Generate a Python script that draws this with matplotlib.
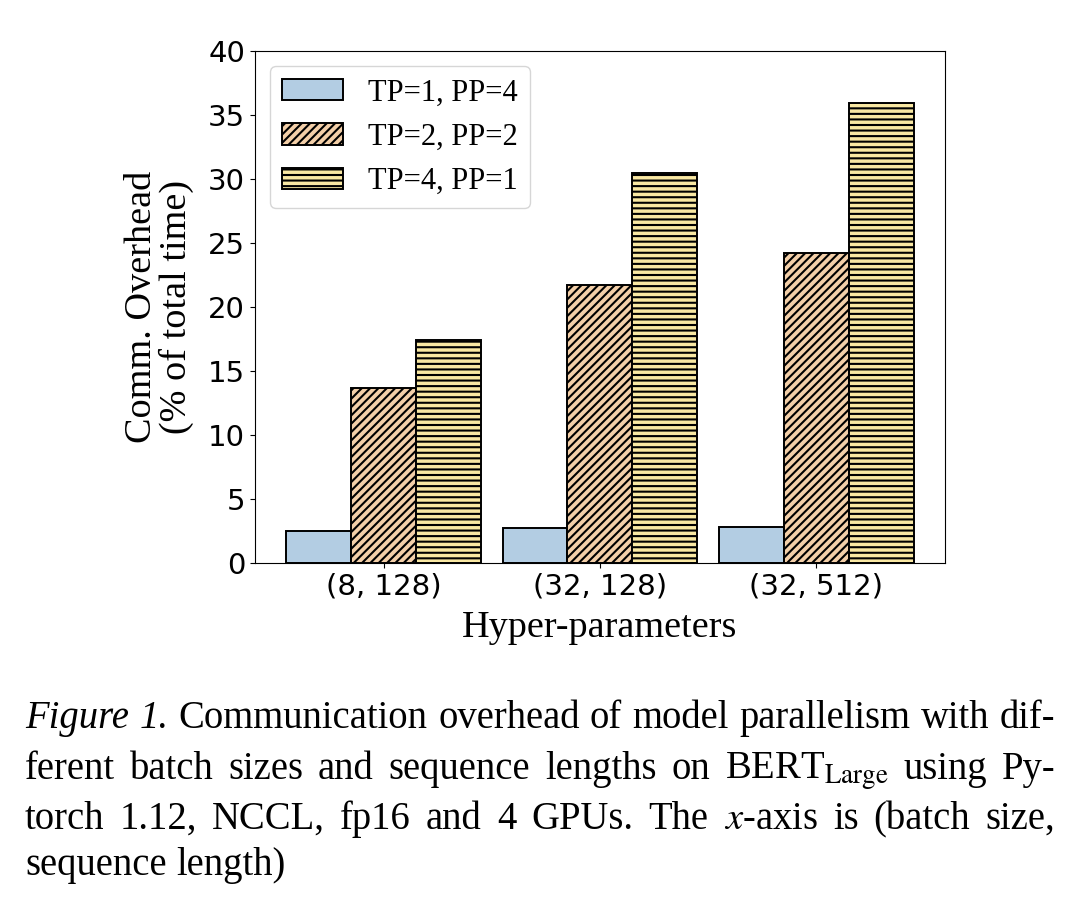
import numpy as np
import matplotlib
matplotlib.use("Agg")
import matplotlib.pyplot as plt

plt.rcParams["hatch.linewidth"] = 1.5
plt.rcParams["mathtext.fontset"] = "stix"

groups = ["(8, 128)", "(32, 128)", "(32, 512)"]
series = ["TP=1, PP=4", "TP=2, PP=2", "TP=4, PP=1"]
tp1_pp4 = [2.5, 2.7, 2.8]
tp2_pp2 = [13.7, 21.7, 24.2]
tp4_pp1 = [17.4, 30.5, 35.9]

colors = ["#b3cde3", "#f3cfa8", "#f9e8a3"]
hatches = ["", "////", "---"]
serif = "Liberation Serif"

fig = plt.figure(figsize=(10.8, 9.09), dpi=100)
ax = fig.add_axes([0.236, 0.3806, 0.639, 0.5634])

x = np.arange(len(groups))
w = 0.3
for i, (vals, lab) in enumerate(zip([tp1_pp4, tp2_pp2, tp4_pp1], series)):
    ax.bar(x + (i - 1) * w, vals, w, color=colors[i], hatch=hatches[i],
           edgecolor="black", linewidth=1.4, label=lab)

ax.set_ylim(0, 40)
ax.set_xticks(x)
ax.set_xticklabels(groups)
ax.tick_params(labelsize=21)
ax.set_xlabel("Hyper-parameters", fontsize=27.5, family=serif, labelpad=7)
ax.set_ylabel("Comm. Overhead\n(% of total time)", fontsize=27.5, family=serif,
              linespacing=1.0, labelpad=10)
ax.legend(loc="upper left", prop={"family": serif, "size": 22})

# caption, justified line by line
cap_lines = [
    [("Figure", "italic"), ("1.", "italic"), ("Communication", "normal"),
     ("overhead", "normal"), ("of", "normal"), ("model", "normal"),
     ("parallelism", "normal"), ("with", "normal"), ("dif-", "normal")],
    [(s, "normal") for s in ["ferent", "batch", "sizes", "and", "sequence",
                             "lengths", "on", r"BERT$_{\rm Large}$", "using", "Py-"]],
    [(s, "normal") for s in ["torch", "1.12,", "NCCL,", "fp16", "and", "4",
                             "GPUs.", "The", "$x$-axis", "is", "(batch", "size,"]],
    [(s, "normal") for s in ["sequence", "length)"]],
]
cap_left, cap_right = 25, 1055
baselines = [728, 779, 829, 875]
cap_size = 27.8

fig.canvas.draw()
renderer = fig.canvas.get_renderer()
t1 = fig.text(0, 0, "a a", fontsize=cap_size, family=serif)
t2 = fig.text(0, 0, "aa", fontsize=cap_size, family=serif)
space = t1.get_window_extent(renderer).width - t2.get_window_extent(renderer).width
t1.remove()
t2.remove()
for li, (words, yb) in enumerate(zip(cap_lines, baselines)):
    texts = [fig.text(0, 0, s, fontsize=cap_size, family=serif, style=st,
                      va="baseline", ha="left") for s, st in words]
    widths = [t.get_window_extent(renderer).width for t in texts]
    if li < len(cap_lines) - 1:
        gap = (cap_right - cap_left - sum(widths)) / (len(words) - 1)
    else:
        gap = space
    xp = cap_left
    for t, wd in zip(texts, widths):
        t.set_position((xp / 1080, 1 - yb / 909))
        xp += wd + gap

fig.savefig("out.png", dpi=100)
